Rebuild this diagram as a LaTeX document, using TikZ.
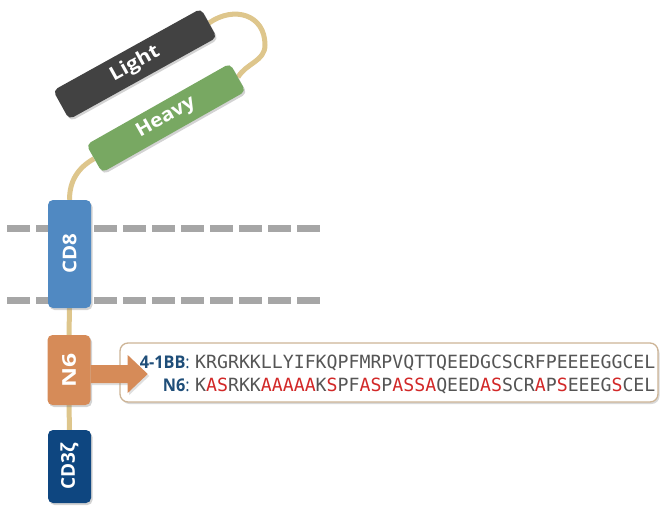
\documentclass[tikz,border=0pt]{standalone}
\usepackage{fontspec}
\setmainfont{Open Sans}
\newfontfamily\seqfont{DejaVu Sans Mono}
\usetikzlibrary{shadows,calc,backgrounds}
\definecolor{lightc}{RGB}{66,66,66}
\definecolor{heavyc}{RGB}{120,168,98}
\definecolor{cdeightc}{RGB}{80,137,194}
\definecolor{nsixc}{RGB}{214,139,88}
\definecolor{cdzc}{RGB}{14,70,128}
\definecolor{linkc}{RGB}{222,198,140}
\definecolor{memc}{RGB}{166,166,166}
\definecolor{seqgray}{RGB}{85,85,85}
\definecolor{seqred}{RGB}{210,40,40}
\definecolor{lblblue}{RGB}{31,78,121}
\definecolor{boxbord}{RGB}{205,180,150}
\newcommand\sx[2][1]{\scalebox{#1}[1]{#2}}
\newcommand\Rd[1]{\textcolor{seqred}{#1}}
\begin{document}
\begin{tikzpicture}[x=1pt,y=1pt,
  protbox/.style={rounded corners=5pt, inner sep=0pt, text=white,
    font=\bfseries\fontsize{19}{22}\selectfont,
    drop shadow={shadow xshift=1.5pt, shadow yshift=-2pt, opacity=0.35}},
  linker/.style={draw=linkc, line width=5pt},
  membrane/.style={draw=memc, line width=7pt, dash pattern=on 23pt off 6pt},
  seqlbl/.style={anchor=base east, inner sep=0pt, text=lblblue, font=\fontsize{17.5}{20}\selectfont},
  seqtxt/.style={anchor=base west, inner sep=0pt, text=seqgray, font=\seqfont\fontsize{18.2}{20}\selectfont},
  arrowfill/.style={fill=nsixc, drop shadow={shadow xshift=1.5pt, shadow yshift=-2pt, opacity=0.25}}
]
\useasboundingbox (0,0) rectangle (666,507);

% sequence box
\node[draw=boxbord, line width=1.3pt, fill=white, rounded corners=8pt,
  minimum width=538pt, minimum height=59pt, inner sep=0pt,
  drop shadow={shadow xshift=1.5pt, shadow yshift=-2pt, opacity=0.3}] (seqbox) at (389,134.5) {};
\node[seqlbl] (l1) at (190,139) {\sx[0.93]{\textbf{4-1BB}:}};
\node[seqlbl] (l2) at (190,116) {\sx[0.93]{\textbf{N6}:}};
\node[seqtxt] (s1) at (195,139) {KRGRKKLLYIFKQPFMRPVQTTQEEDGCSCRFPEEEEGGCEL};
\node[seqtxt] (s2) at (195,116) {K\Rd{AS}RKK\Rd{AAAAA}K\Rd{S}PF\Rd{AS}P\Rd{ASSA}QEED\Rd{AS}SCR\Rd{A}P\Rd{S}EEEG\Rd{S}CEL};

% domains
\node[protbox, fill=lightc, minimum width=169pt, minimum height=33pt, rotate=29] (light) at (135,443) {\sx[1.12]{Light}};
\node[protbox, fill=heavyc, minimum width=165pt, minimum height=32pt, rotate=29.5] (heavy) at (166,389) {\sx[1.1]{Heavy}};
\node[protbox, fill=cdeightc, minimum width=43pt, minimum height=108pt] (cd8) at (69.5,253) {\rotatebox{90}{\sx[1.08]{CD8}}};
\node[protbox, fill=nsixc, minimum width=43pt, minimum height=70pt] (n6) at (69,137) {\rotatebox{90}{\sx[1.3]{N6}}};
\node[protbox, fill=cdzc, minimum width=43pt, minimum height=73pt] (cd3) at (69.5,40.5) {\rotatebox{90}{CD3ζ}};

% arrow from N6 to sequence box
\coordinate (as) at ([yshift=-4pt]n6.east);
\fill[arrowfill] ([yshift=9pt]as) -- ++(37,0) -- ++(0,10) -- ++(20,-19) -- ++(-20,-19) -- ++(0,10) -- ++(-37,0) -- cycle;

\begin{scope}[on background layer]
  \coordinate (m1a) at (7,279);
  \coordinate (m1b) at (320,279);
  \coordinate (m2a) at (7,207);
  \coordinate (m2b) at (320,207);
  \draw[membrane] (m1a) -- (m1b);
  \draw[membrane] (m2a) -- (m2b);
  \coordinate (lk) at (265,462);
  \draw[linker] (light.east) to[out=35,in=90,looseness=1.3] (lk) to[out=-90,in=60] (heavy.east);
  \draw[linker] (heavy.west) to[out=209.5,in=90] (cd8.north);
  \draw[linker] (cd8.south) -- (n6.north);
  \draw[linker] (n6.south) -- (cd3.north);
\end{scope}
\end{tikzpicture}
\end{document}
